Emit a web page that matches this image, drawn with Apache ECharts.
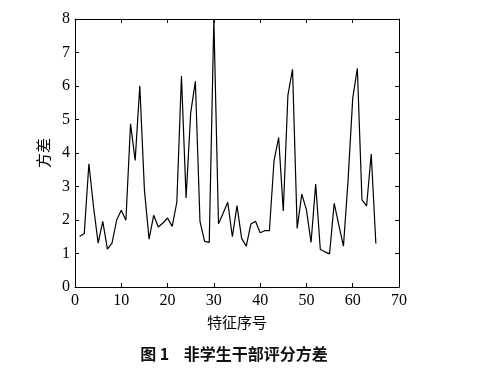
<!DOCTYPE html>
<html><head><meta charset="utf-8">
<script src="https://cdn.jsdelivr.net/npm/echarts@6/dist/echarts.min.js"></script>
<style>html,body{margin:0;padding:0;background:#fff}#c{width:487px;height:388px}</style>
</head><body><div id="c"></div>
<script>
var xValues = [1,2,3,4,5,6,7,8,9,10,11,12,13,14,15,16,17,18,19,20,21,22,23,24,25,26,27,28,29,30,31,32,33,34,35,36,37,38,39,40,41,42,43,44,45,46,47,48,49,50,51,52,53,54,55,56,57,58,59,60,61,62,63,64,65];
var variance = [1.51,1.6,3.68,2.4,1.31,1.96,1.13,1.31,2.0,2.29,1.99,4.87,3.78,6.01,2.9,1.43,2.14,1.79,1.91,2.06,1.81,2.53,6.3,2.66,5.2,6.14,1.96,1.36,1.33,8.0,1.89,2.2,2.53,1.5,2.43,1.45,1.22,1.88,1.96,1.62,1.68,1.68,3.77,4.46,2.27,5.73,6.5,1.75,2.77,2.3,1.33,3.07,1.12,1.05,0.99,2.5,1.85,1.22,3.19,5.63,6.53,2.6,2.42,3.97,1.3];
var xTicks = [0,10,20,30,40,50,60,70];
var yTicks = [0,1,2,3,4,5,6,7,8];

var chart = echarts.init(document.getElementById('c'));
var serif = '"Liberation Serif","DejaVu Serif",serif';
var cjk = '"Noto Sans CJK SC",sans-serif';
var lineStyle = {color:'#000', width:1};
var pts = xValues.map(function(x,i){return [x, variance[i]];});
chart.setOption({
  animation:false,
  backgroundColor:'#fff',
  title:{text:'图 1    非学生干部评分方差', left:229, textAlign:'center', top:341,
    textStyle:{fontFamily:cjk, fontSize:16, fontWeight:'bold', color:'#111'}},
  grid:{left:75, right:88, top:19, bottom:101, containLabel:false},
  xAxis:[{type:'value', min:xTicks[0], max:xTicks[xTicks.length-1], interval:10,
    axisLine:{show:true, onZero:false, lineStyle:lineStyle}, axisTick:{inside:true, length:4, lineStyle:lineStyle},
    axisLabel:{fontFamily:serif, fontSize:16, color:'#000', margin:6},
    splitLine:{show:false},
    name:'特征序号', nameLocation:'middle', nameGap:28,
    nameTextStyle:{fontFamily:cjk, fontSize:15, color:'#000'}},
   {type:'value', position:'top', min:0, max:70, interval:10,
    axisLine:{show:true, onZero:false, lineStyle:lineStyle}, axisTick:{inside:true, length:4, lineStyle:lineStyle},
    axisLabel:{show:false}, splitLine:{show:false}}],
  yAxis:[{type:'value', min:yTicks[0], max:yTicks[yTicks.length-1], interval:1,
    axisLine:{show:true, onZero:false, lineStyle:lineStyle}, axisTick:{inside:true, length:4, lineStyle:lineStyle},
    axisLabel:{fontFamily:serif, fontSize:16, color:'#000', margin:5},
    splitLine:{show:false},
    name:'方差', nameLocation:'middle', nameGap:24, nameRotate:90,
    nameTextStyle:{fontFamily:cjk, fontSize:15, color:'#000'}},
   {type:'value', position:'right', min:0, max:8, interval:1,
    axisLine:{show:true, onZero:false, lineStyle:lineStyle}, axisTick:{inside:true, length:4, lineStyle:lineStyle},
    axisLabel:{show:false}, splitLine:{show:false}}],
  series:[{type:'line', data:pts, showSymbol:false, symbol:'none',
    lineStyle:{color:'#000', width:1.2}, clip:true}]
});
</script></body></html>
